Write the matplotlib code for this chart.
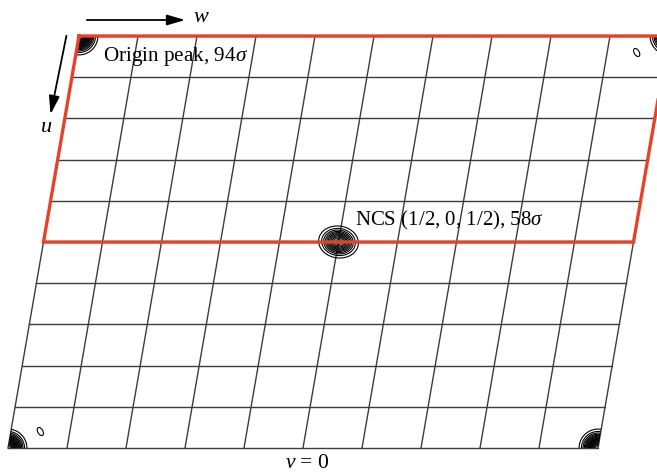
import numpy as np
import matplotlib
matplotlib.use("Agg")
import matplotlib.pyplot as plt
from matplotlib.transforms import Affine2D

plt.rcParams['font.family'] = ['Liberation Serif', 'DejaVu Serif']
plt.rcParams['mathtext.fontset'] = 'custom'
plt.rcParams['mathtext.rm'] = 'Liberation Serif'
plt.rcParams['mathtext.it'] = 'Liberation Serif:italic'

# Patterson peaks in fractional coordinates (u down, w across), heights in sigma
peak_u = [0.0, 0.5, 0.04, 0.96]
peak_w = [0.0, 0.5, 0.95, 0.05]
peak_height = [94, 58, 8, 8]
peak_sx = [7.8, 9.0, 2.6, 2.6]   # widths in px
peak_sy = [7.8, 7.2, 4.6, 4.6]
peak_tilt = [0, 8, -30, -30]     # degrees
levels = np.arange(5, 95, 5)

n_div = 10  # grid divisions along u and w
box_u = 0.5  # red box covers u = 0 .. 1/2

labels = ["Origin peak, 94$\\sigma$", "NCS (1/2, 0, 1/2), 58$\\sigma$"]

# layout: fractional (w, u) -> pixel
a_px = (590.0, 0.0)
c_px = (-71.0, 412.0)
origin_px = (79.0, 36.0)

fig = plt.figure(figsize=(6.57, 4.75), dpi=100)
ax = fig.add_axes([0, 0, 1, 1])
ax.set_xlim(0, 657)
ax.set_ylim(475, 0)
ax.axis('off')

M = Affine2D(np.array([[a_px[0], c_px[0], origin_px[0]],
                       [a_px[1], c_px[1], origin_px[1]],
                       [0, 0, 1]]))
tr = M + ax.transData

# grid
g = np.linspace(0, 1, n_div + 1)
for t in g:
    ax.plot([0, 1], [t, t], color='#3c3c3c', lw=1.0, transform=tr)
    ax.plot([t, t], [0, 1], color='#3c3c3c', lw=1.0, transform=tr)

# density map
W, U = np.meshgrid(np.linspace(0, 1, 701), np.linspace(0, 1, 701))
X = origin_px[0] + a_px[0] * W + c_px[0] * U
Y = origin_px[1] + a_px[1] * W + c_px[1] * U
Z = np.zeros_like(W)
for pu, pw, h, sx, sy, ang in zip(peak_u, peak_w, peak_height, peak_sx, peak_sy, peak_tilt):
    th = np.deg2rad(ang)
    for su in (-1, 0, 1):
        for sw in (-1, 0, 1):
            du = U - (pu + su)
            dw = W - (pw + sw)
            dx = a_px[0] * dw + c_px[0] * du
            dy = c_px[1] * du
            rx = dx * np.cos(th) + dy * np.sin(th)
            ry = -dx * np.sin(th) + dy * np.cos(th)
            Z += h * np.exp(-0.5 * ((rx / sx) ** 2 + (ry / sy) ** 2))
ax.contour(X, Y, Z, levels=levels, colors='k', linewidths=0.8)

# red box
ax.plot([0, 1, 1, 0, 0], [0, 0, box_u, box_u, 0], color='#e8412a', lw=2.4,
        solid_joinstyle='miter', transform=tr, clip_on=False)

ax.text(103, 56, labels[0], fontsize=15.2, ha='left', va='center')
ax.text(355, 220, labels[1], fontsize=15.0, ha='left', va='center')

ax.annotate('', xy=(188, 20), xytext=(84, 20),
            arrowprops=dict(arrowstyle='-|>,head_length=1.1,head_width=0.32', color='k', lw=1.3))
ax.text(193, 18, '$w$', fontsize=16, ha='left', va='center')
ax.annotate('', xy=(50, 117), xytext=(67, 33),
            arrowprops=dict(arrowstyle='-|>,head_length=1.1,head_width=0.32', color='k', lw=1.3))
ax.text(46, 128, '$u$', fontsize=16, ha='center', va='center')
ax.text(307, 464, '$v$ = 0', fontsize=15.5, ha='center', va='center')

fig.savefig('out.png', dpi=100)
